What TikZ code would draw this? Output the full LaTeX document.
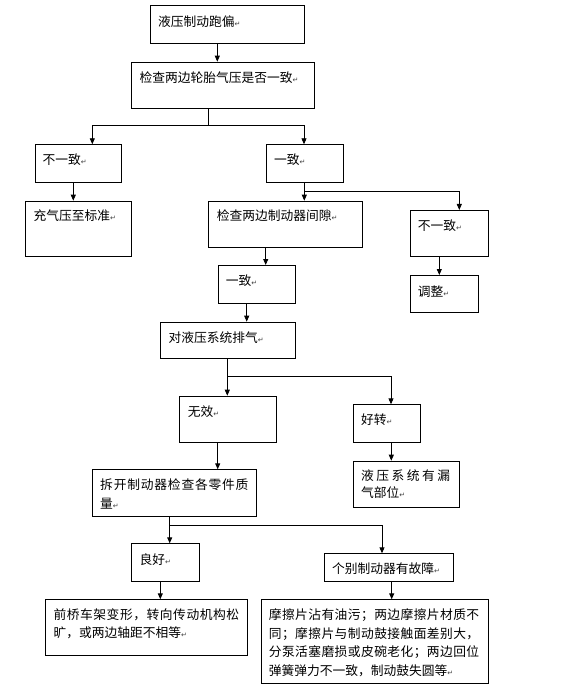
\documentclass[tikz,border=0pt]{standalone}
\usepackage{fontspec}
\setmainfont{Noto Sans CJK SC}
\newfontfamily\symf{DejaVu Sans}
\usetikzlibrary{arrows.meta}
\newcommand\ret{{\symf\fontsize{7}{7}\selectfont\color{black!75}↵}}
\newcommand\spr[2]{{\spaceskip=0pt plus 1fil\xspaceskip=0pt plus 1fil\makebox[#1][s]{#2}}}
\newcommand\bx[5]{\node[box, minimum width=#4pt, minimum height=#5pt] (#1) at (#2,#3) {};}
\begin{document}
\begin{tikzpicture}[x=1pt,y=-1pt,
  box/.style={draw, line width=0.9pt, inner sep=0pt, anchor=north west},
  txt/.style={inner sep=0pt, anchor=base west, font=\fontsize{12.75}{18}\selectfont, align=left},
  arr/.style={-{Triangle[length=6pt,width=5pt]}, line width=0.9pt},
  ln/.style={line width=0.9pt}]
\useasboundingbox (0,0) rectangle (581,692);
\fill[white] (0,0) rectangle (581,692);
% boxes
\bx{a}{150.3}{5.3}{154}{38}
\bx{b}{131}{61.7}{183.3}{46.6}
\bx{c}{34.7}{144.3}{86.3}{38}
\bx{d}{265.7}{144.3}{77.3}{38}
\bx{e}{25}{200.7}{106}{55.3}
\bx{f}{208}{200.7}{154.3}{46.6}
\bx{g}{410.3}{210}{77.4}{46}
\bx{h}{410.3}{275}{67.7}{37}
\bx{i}{217.7}{265}{77}{37.7}
\bx{j}{160}{321.7}{134.7}{36.6}
\bx{k}{179.3}{395.7}{96.4}{46.3}
\bx{l}{352.7}{404.3}{67.3}{37.7}
\bx{m}{352.7}{460.7}{106}{46}
\bx{n}{92.3}{469.3}{164}{46.4}
\bx{o}{130.7}{543.3}{68}{37.7}
\bx{p}{324}{553.3}{129}{27.7}
\bx{q}{44.7}{599.3}{202}{55.7}
\bx{r}{260.7}{599.3}{227}{83.4}
% texts
\node[txt] (ta) at (158,26.5) {液压制动跑偏\ret};
\node[txt] (tb) at (139.3,82.1) {检查两边轮胎气压是否一致\ret};
\node[txt] (tc) at (42.3,164.8) {不一致\ret};
\node[txt] (td) at (274,164.8) {一致\ret};
\node[txt] (te) at (33.3,220.5) {充气压至标准\ret};
\node[txt] (tf) at (216.7,220.5) {检查两边制动器间隙\ret};
\node[txt] (tg) at (417.7,230.1) {不一致\ret};
\node[txt] (th) at (417.7,296.5) {调整\ret};
\node[txt] (ti) at (225.7,285.8) {一致\ret};
\node[txt] (tj) at (168.3,342.1) {对液压系统排气\ret};
\node[txt] (tk) at (187.7,416.5) {无效\ret};
\node[txt] (tl) at (361,424.1) {好转\ret};
\node[txt, font=\fontsize{12.75}{17}\selectfont] (tm) at (361,497.5) {\spr{89pt}{液 压 系 统 有 漏}\\气部位\ret};
\node[txt, font=\fontsize{12.75}{19}\selectfont] (tn) at (100,508.8) {\spr{148.3pt}{拆 开 制 动 器 检 查 各 零 件 质}\\量\ret};
\node[txt] (to) at (139.3,564.1) {良好\ret};
\node[txt] (tp) at (332,573.8) {个别制动器有故障\ret};
\node[txt, font=\fontsize{12.75}{17.7}\selectfont] (tq) at (53.3,637.5) {\spr{185.7pt}{前 桥 车 架 变 形 ， 转 向 传 动 机 构 松}\\旷，或两边轴距不相等\ret};
\node[txt, font=\fontsize{12.75}{18.6}\selectfont] (tr) at (268.7,675.5) {\spr{210.3pt}{摩 擦 片 沾 有 油 污 ； 两 边 摩 擦 片 材 质 不}\\\spr{210.3pt}{同 ； 摩 擦 片 与 制 动 鼓 接 触 面 差 别 大 ，}\\\spr{210.3pt}{分 泵 活 塞 磨 损 或 皮 碗 老 化 ； 两 边 回 位}\\弹簧弹力不一致，制动鼓失圆等\ret};
% connector coordinates
\coordinate (xa) at (217.3,0);
\coordinate (jb) at (208.3,125.7);
\coordinate (xc) at (92.3,0);
\coordinate (xd) at (304,0);
\coordinate (xe) at (73.3,0);
\coordinate (jd) at (304.3,191);
\coordinate (xg) at (459.3,0);
\coordinate (xh) at (439.3,0);
\coordinate (xi) at (265.7,0);
\coordinate (xj) at (246.7,0);
\coordinate (jj) at (227.3,376.7);
\coordinate (xl) at (391,0);
\coordinate (xm) at (391.3,0);
\coordinate (xn) at (217.7,0);
\coordinate (jn) at (169.7,525);
\coordinate (xp) at (382,0);
\coordinate (xq) at (160.3,0);
\coordinate (xr) at (391.7,0);
% connectors
\draw[arr] (a.south -| xa) -- (b.north -| xa);
\draw[ln] (b.south -| jb) -- (jb);
\draw[arr] (jb) -| (c.north -| xc);
\draw[arr] (jb) -| (d.north -| xd);
\draw[arr] (c.south -| xe) -- (e.north -| xe);
\draw[ln] (d.south -| jd) -- (jd);
\draw[arr] (jd) -- (f.north -| jd);
\draw[arr] (jd) -| (g.north -| xg);
\draw[arr] (g.south -| xh) -- (h.north -| xh);
\draw[arr] (f.south -| xi) -- (i.north -| xi);
\draw[arr] (i.south -| xj) -- (j.north -| xj);
\draw[ln] (j.south -| jj) -- (jj);
\draw[arr] (jj) -- (k.north -| jj);
\draw[arr] (jj) -| (l.north -| xl);
\draw[arr] (l.south -| xm) -- (m.north -| xm);
\draw[arr] (k.south -| xn) -- (n.north -| xn);
\draw[ln] (n.south -| jn) -- (jn);
\draw[arr] (jn) -- (o.north -| jn);
\draw[arr] (jn) -| (p.north -| xp);
\draw[arr] (o.south -| xq) -- (q.north -| xq);
\draw[arr] (p.south -| xr) -- (r.north -| xr);
\end{tikzpicture}
\end{document}
